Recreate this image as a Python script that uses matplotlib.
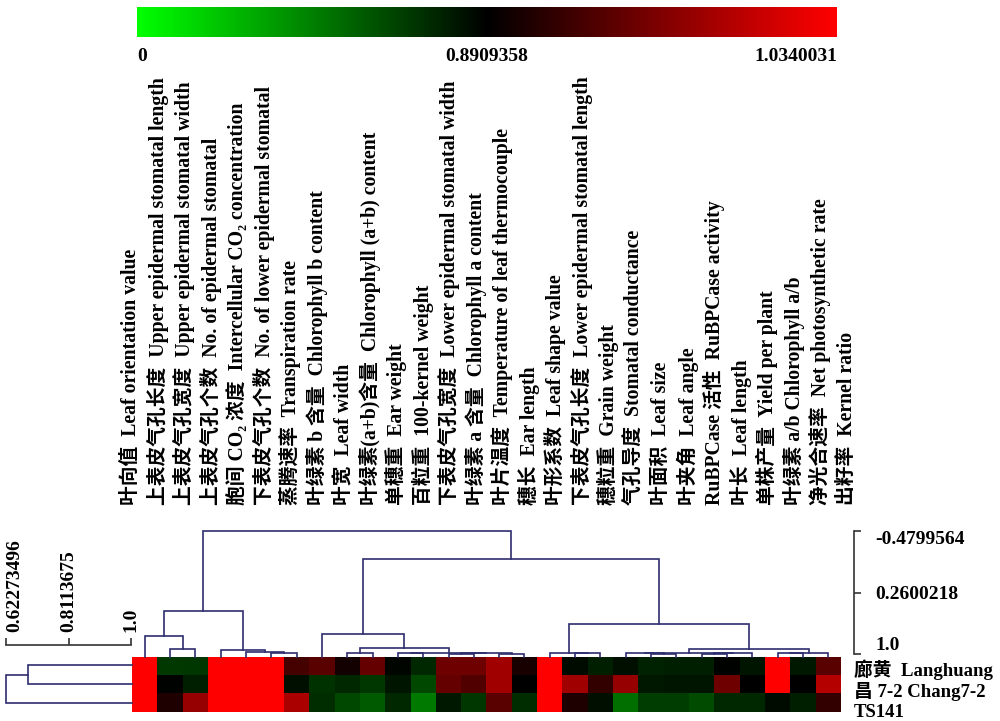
import matplotlib
matplotlib.use("Agg")
import matplotlib.pyplot as plt
import numpy as np
from matplotlib.colors import LinearSegmentedColormap, TwoSlopeNorm

plt.rcParams['font.family'] = ['Liberation Serif', 'Noto Sans CJK SC', 'DejaVu Sans']
plt.rcParams['font.weight'] = 'bold'

# column traits (already in dendrogram order)
traits = [
    "叶向值  Leaf orientation value",
    "上表皮气孔长度  Upper epidermal stomatal length",
    "上表皮气孔宽度  Upper epidermal stomatal width",
    "上表皮气孔个数  No. of epidermal stomatal",
    "胞间 CO₂ 浓度  Intercellular CO₂ concentration",
    "下表皮气孔个数  No. of lower epidermal stomatal",
    "蒸腾速率  Transpiration rate",
    "叶绿素 b 含量  Chlorophyll b content",
    "叶宽  Leaf width",
    "叶绿素(a+b)含量  Chlorophyll (a+b) content",
    "单穗重  Ear weight",
    "百粒重  100-kernel weight",
    "下表皮气孔宽度  Lower epidermal stomatal width",
    "叶绿素 a 含量  Chlorophyll a content",
    "叶片温度  Temperature of leaf thermocouple",
    "穗长  Ear length",
    "叶形系数  Leaf shape value",
    "下表皮气孔长度  Lower epidermal stomatal length",
    "穗粒重  Grain weight",
    "气孔导度  Stomatal conductance",
    "叶面积  Leaf size",
    "叶夹角  Leaf angle",
    "RuBPCase 活性  RuBPCase activity",
    "叶长  Leaf length",
    "单株产量  Yield per plant",
    "叶绿素 a/b Chlorophyll a/b",
    "净光合速率  Net photosynthetic rate",
    "出籽率  Kernel ratio",
]

varieties = ["廊黄  Langhuang", "昌 7-2 Chang7-2", "TS141"]

langhuang = [1.034, 0.695, 0.70, 1.034, 1.034, 1.034, 0.930, 0.941, 0.902, 0.947,
             0.874, 0.751, 0.953, 0.953, 0.981, 0.905, 1.034, 0.856, 0.786, 0.839,
             0.769, 0.786, 0.786, 0.880, 0.821, 1.034, 0.804, 0.941]
chang72 = [1.034, 0.880, 0.786, 1.034, 1.034, 1.034, 0.839, 0.716, 0.751, 0.699,
           0.821, 0.646, 0.947, 0.936, 0.981, 0.885, 1.034, 0.981, 0.919, 0.975,
           0.804, 0.821, 0.821, 0.953, 0.890, 1.034, 0.890, 0.992]
ts141 = [1.034, 0.908, 0.975, 1.034, 1.034, 1.034, 0.986, 0.734, 0.646, 0.577,
         0.751, 0.472, 0.804, 0.699, 0.941, 0.734, 1.034, 0.908, 0.839, 0.507,
         0.681, 0.681, 0.629, 0.751, 0.751, 0.850, 0.786, 0.919]

cbar_ticks = [0, 0.8909358, 1.0340031]
col_scale = [-0.4799564, 0.2600218, 1.0]
row_scale = [0.62273496, 0.8113675, 1.0]

# cluster trees: (height, left, right), leaves are column / row indices
col_tree = (-0.4799564,
            (0.483,
             (0.783, 0, (0.94, 1, 2)),
             (0.952, 3, (0.978, 4, (0.985, 5, 6)))),
            (-0.143,
             (0.759, 7,
              (0.928, (0.985, 8, 9),
               (0.985, (0.99, 10, 11), (0.99, (0.995, 12, 13), (0.995, 14, 15))))),
             (0.639,
              (0.985, 16, (0.99, 17, 18)),
              (0.94,
               (0.985, (0.99, 19, (0.995, 20, 21)), (0.99, (0.995, 22, 23), 24)),
               (0.985, (0.99, 25, 26), 27)))))
row_tree = (0.62273496, (0.689, 0, 1), 2)

line_col = '#2e2e6e'

data = np.array([langhuang, chang72, ts141])
cmap = LinearSegmentedColormap.from_list('gbr', ['#00ff00', '#000000', '#ff0000'])
norm = TwoSlopeNorm(vmin=cbar_ticks[0], vcenter=cbar_ticks[1], vmax=cbar_ticks[2])

W, H = 1000, 721
fig = plt.figure(figsize=(10, 7.21), dpi=100)


def px(x0, y0, x1, y1):
    return [x0 / W, 1 - y1 / H, (x1 - x0) / W, (y1 - y0) / H]


# heatmap
ax = fig.add_axes(px(132, 656, 841, 712))
im = ax.imshow(data, cmap=cmap, norm=norm, aspect='auto', interpolation='nearest')
ax.set_xlim(-0.5, len(traits) - 0.5)
ax.set_ylim(len(varieties) - 0.5, -0.5)
ax.axis('off')
for i, name in enumerate(varieties):
    ax.annotate(name, xy=(1, i + 0.25 + 0.13 * i), xycoords=('axes fraction', 'data'),
                xytext=(9, 0), textcoords='offset points', ha='left', va='center',
                fontsize=13.5, fontweight='bold', annotation_clip=False)


def draw_tree(a, node, leaf_h, vertical):
    if not isinstance(node, tuple):
        return float(node), leaf_h
    h, left, right = node
    xl, hl = draw_tree(a, left, leaf_h, vertical)
    xr, hr = draw_tree(a, right, leaf_h, vertical)
    xs = [xl, xl, xr, xr]
    hs = [hl, h, h, hr]
    if vertical:
        a.plot(xs, hs, color=line_col, lw=1.2, clip_on=False, solid_joinstyle='miter')
    else:
        a.plot(hs, xs, color=line_col, lw=1.2, clip_on=False, solid_joinstyle='miter')
    return (xl + xr) / 2, h


# top dendrogram
tax = fig.add_axes(px(132, 531, 841, 656.5))
draw_tree(tax, col_tree, 1.03, True)
tax.set_xlim(-0.5, len(traits) - 0.5)
tax.set_ylim(1.03, -0.4799564)
for s in ['top', 'bottom', 'left']:
    tax.spines[s].set_visible(False)
tax.spines['right'].set_position(('outward', 9))
tax.spines['right'].set_bounds(col_scale[0], col_scale[-1])
tax.spines['right'].set_color('#333333')
tax.spines['right'].set_linewidth(1.2)
tax.set_xticks([])
tax.yaxis.tick_right()
tax.set_yticks(col_scale)
tax.set_yticklabels(['-0.4799564', '0.2600218', '1.0'], fontsize=14, fontweight='bold')
tax.tick_params(axis='y', direction='out', length=5, width=1.2, color='#333333', pad=11)
ylabs = tax.get_yticklabels()
ylabs[0].set_va('top')
ylabs[-1].set_va('bottom')

# left dendrogram
lax = fig.add_axes(px(6, 656, 132, 712))
draw_tree(lax, row_tree, 1.003, False)
lax.set_xlim(row_scale[0], 1.003)
lax.set_ylim(len(varieties) - 0.5, -0.5)
for s in ['right', 'bottom', 'left']:
    lax.spines[s].set_visible(False)
lax.spines['top'].set_position(('outward', 8))
lax.spines['top'].set_bounds(row_scale[0], row_scale[-1])
lax.spines['top'].set_color('#333333')
lax.spines['top'].set_linewidth(1.2)
lax.set_yticks([])
lax.xaxis.tick_top()
lax.set_xticks(row_scale)
lax.set_xticklabels([])
lax.tick_params(axis='x', direction='out', length=5, width=1.2, color='#333333')
for v, lab, ha in zip(row_scale, ['0.62273496', '0.8113675', '1.0'], ['left', 'center', 'center']):
    lax.annotate(lab, xy=(v, 1), xycoords=('data', 'axes fraction'), xytext=(0, 17),
                 textcoords='offset points', rotation=90, ha=ha, va='bottom',
                 fontsize=14, fontweight='bold', annotation_clip=False)

# column labels
kax = fig.add_axes(px(118, 480, 860, 505))
kax.set_xlim(-0.5, len(traits) - 0.5)
kax.set_ylim(0, 1)
kax.axis('off')
for i, t in enumerate(traits):
    kax.text(i, 0, t, rotation=90, ha='center', va='bottom', fontsize=14.2, fontweight='bold')

# colour bar
cax = fig.add_axes(px(137, 7, 837, 37))
cb = fig.colorbar(im, cax=cax, orientation='horizontal', ticks=cbar_ticks)
cb.set_ticklabels(['0', '0.8909358', '1.0340031'])
cb.outline.set_visible(False)
cax.tick_params(length=0, pad=8, labelsize=14)
labs = cax.get_xticklabels()
labs[0].set_ha('left')
labs[-1].set_ha('right')
for l in labs:
    l.set_fontweight('bold')

fig.savefig('out.png', dpi=100)
